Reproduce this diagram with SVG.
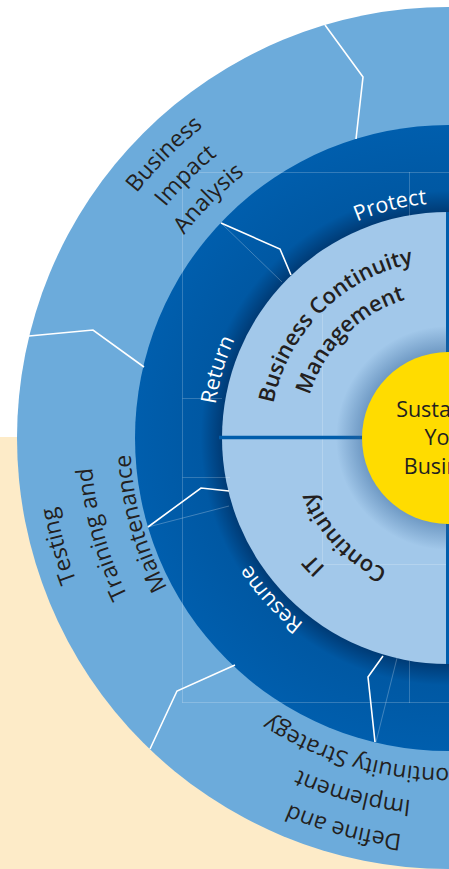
<svg xmlns="http://www.w3.org/2000/svg" width="449" height="869" viewBox="0 0 449 869">
<style>
.t{font-family:"Open Sans","Noto Sans",sans-serif;text-anchor:middle;}
.outer{font-size:23px;fill:#231f20;}
.white{font-size:21.5px;fill:#ffffff;}
.inner{font-size:22px;font-weight:600;fill:#231f20;}
.core{font-size:21.5px;fill:#231f20;}
.div{fill:none;stroke:#ffffff;stroke-width:1.6;}
.ghost{fill:none;stroke:#ffffff;stroke-opacity:0.25;stroke-width:1;}
.guide{fill:none;stroke:#ffffff;stroke-opacity:0.2;stroke-width:1;}
.axis{fill:none;stroke:#005dab;}
</style>
<defs>
<radialGradient id="ringShade" gradientUnits="userSpaceOnUse" cx="448" cy="438" r="313">
<stop offset="0.72" stop-color="#003a74"/>
<stop offset="0.79" stop-color="#0058a3"/>
<stop offset="1" stop-color="#005ead"/>
</radialGradient>
<radialGradient id="coreShadow" gradientUnits="userSpaceOnUse" cx="448" cy="438" r="112">
<stop offset="0.76" stop-color="#2f5f94" stop-opacity="0.45"/>
<stop offset="1" stop-color="#2f5f94" stop-opacity="0"/>
</radialGradient>
<path id="a396" d="M52,438 A396,396 0 0 1 844,438"/>
<path id="a365" d="M83,438 A365,365 0 0 1 813,438"/>
<path id="a333" d="M115,438 A333,333 0 0 1 781,438"/>
<path id="a398" d="M50,438 A398,398 0 0 1 846,438"/>
<path id="a357" d="M91,438 A357,357 0 0 1 805,438"/>
<path id="a318" d="M130,438 A318,318 0 0 1 766,438"/>
<path id="a399" d="M49,438 A399,399 0 0 1 847,438"/>
<path id="a364" d="M84,438 A364,364 0 0 1 812,438"/>
<path id="a330" d="M118,438 A330,330 0 0 1 778,438"/>
<path id="a235" d="M213,438 A235,235 0 0 1 683,438"/>
<path id="a178" d="M270,438 A178,178 0 0 1 626,438"/>
<path id="a145" d="M303,438 A145,145 0 0 1 593,438"/>
</defs>

<g id="background">
<rect x="0" y="0" width="449" height="869" fill="#ffffff"/>
<rect x="0" y="437" width="449" height="432" fill="#fdebc8"/>
</g>

<g id="rings">
<circle cx="448" cy="438" r="431" fill="#6cabdb"/>
<circle cx="448" cy="438" r="313" fill="url(#ringShade)"/>
<circle cx="448" cy="438" r="226" fill="#a2c8ea"/>
</g>

<g id="guides">
<path class="guide" d="M182.5,172 V703 M182.5,172.5 H449 M182.5,702.5 H449 M182.5,398.5 H222 M182.5,477.5 H230 M409.5,172 V216 M409.5,661 V703"/>
<path class="guide" d="M322.5,314 V564.5 H449"/>
</g>

<g id="connectors">
<path class="ghost" d="M221,223 L282,282 M148,527 L229,506 M397,658 L376,742"/>
<path class="div" d="M325,25 L363,77 L356,139"/>
<path class="div" d="M29,336 L93,330 L144,367"/>
<path class="div" d="M150,749 L177,691 L235,665"/>
<path class="div" d="M221,223 L280,249 L291,275"/>
<path class="div" d="M148,527 L201,488 L229,491"/>
<path class="div" d="M383,656 L368,677 L375,742"/>
<path class="axis" stroke-width="3.5" d="M219,437.5 H380"/>
<path class="axis" stroke-width="4" d="M448,212 V664"/>
</g>

<g id="node-business-impact-analysis" transform="rotate(-45 448 438)">
<text class="t outer"><textPath href="#a396" startOffset="50%">Business</textPath></text>
<text class="t outer"><textPath href="#a365" startOffset="50%">Impact</textPath></text>
<text class="t outer"><textPath href="#a333" startOffset="50%">Analysis</textPath></text>
</g>

<g id="node-testing-training-maintenance" transform="rotate(-105.5 448 438)">
<text class="t outer"><textPath href="#a398" startOffset="50%">Testing</textPath></text>
<text class="t outer"><textPath href="#a357" startOffset="50%">Training and</textPath></text>
<text class="t outer"><textPath href="#a318" startOffset="50%">Maintenance</textPath></text>
</g>

<g id="node-define-implement-strategy" transform="rotate(-165 448 438)">
<text class="t outer"><textPath href="#a399" startOffset="50%">Define and</textPath></text>
<text class="t outer"><textPath href="#a364" startOffset="50%">Implement</textPath></text>
<text class="t outer"><textPath href="#a330" startOffset="50%">Continuity Strategy</textPath></text>
</g>

<g id="node-protect" transform="rotate(-14 448 438)">
<text class="t white"><textPath href="#a235" startOffset="50%">Protect</textPath></text>
</g>
<g id="node-return" transform="rotate(-73.5 448 438)">
<text class="t white"><textPath href="#a235" startOffset="50%">Return</textPath></text>
</g>
<g id="node-resume" transform="rotate(-132.3 448 438)">
<text class="t white"><textPath href="#a235" startOffset="50%">Resume</textPath></text>
</g>

<g id="node-bcm" transform="rotate(-45 448 438)">
<text class="t inner"><textPath href="#a178" startOffset="50%">Business Continuity</textPath></text>
<text class="t inner"><textPath href="#a145" startOffset="50%">Management</textPath></text>
</g>
<g id="node-it-continuity" transform="rotate(-133.5 448 438)">
<text class="t inner"><textPath href="#a178" startOffset="50%">IT</textPath></text>
<text class="t inner"><textPath href="#a145" startOffset="50%">Continuity</textPath></text>
</g>

<g id="node-core">
<circle cx="448" cy="438" r="112" fill="url(#coreShadow)"/>
<circle cx="448" cy="438" r="86" fill="#ffdc00"/>
<text class="t core" x="448" y="417">Sustaining</text>
<text class="t core" x="448" y="445">Your</text>
<text class="t core" x="448" y="474">Business</text>
</g>
</svg>
